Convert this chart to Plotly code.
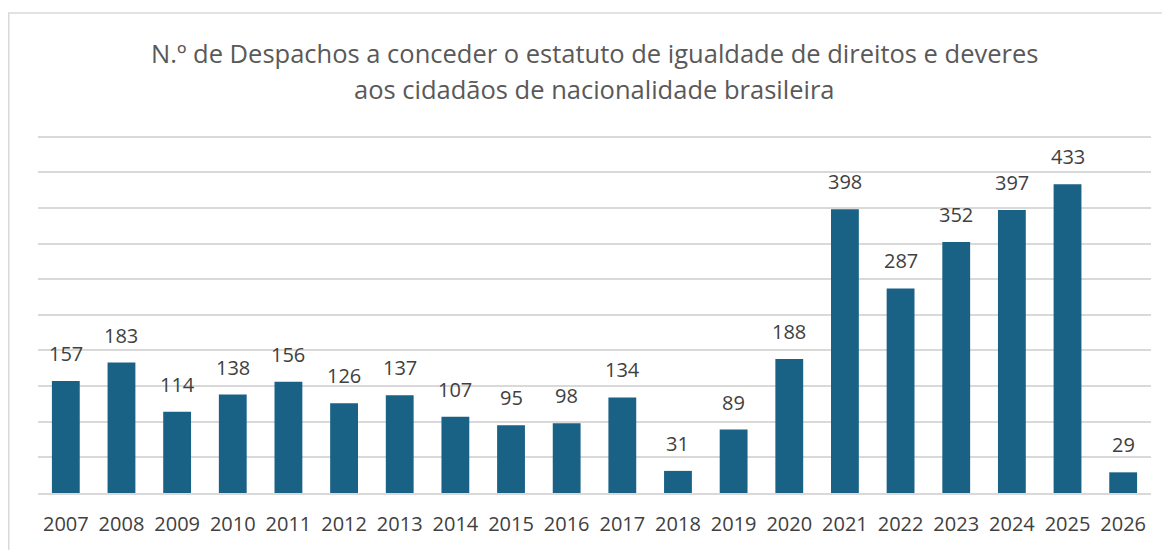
import plotly.graph_objects as go

years = ["2007", "2008", "2009", "2010", "2011", "2012", "2013", "2014", "2015", "2016",
         "2017", "2018", "2019", "2020", "2021", "2022", "2023", "2024", "2025", "2026"]
despachos = [157, 183, 114, 138, 156, 126, 137, 107, 95, 98,
             134, 31, 89, 188, 398, 287, 352, 397, 433, 29]
title_lines = ["N.º de Despachos a conceder o estatuto de igualdade de direitos e deveres",
               "aos cidadãos de nacionalidade brasileira"]

# page has an 8px body margin, so the figure is drawn 8px smaller
W, H = 1162, 542
ml, mr, mt, mb = 30, 19, 125, 57
pw, ph = W - ml - mr, H - mt - mb
font = "Open Sans"
txt_color = "#404040"

idx = list(range(len(years)))

fig = go.Figure()
fig.add_trace(go.Bar(
    x=idx, y=despachos,
    marker=dict(color="#1a6186", line=dict(width=0)),
    hovertext=years, hoverinfo="text+y",
))

for i, yv in zip(idx, despachos):
    fig.add_annotation(x=i, y=yv, text=str(yv), showarrow=False,
                       yanchor="bottom", yshift=12,
                       font=dict(family=font, size=20, color=txt_color))

# title as two centred lines
for line, ypx in zip(title_lines, [45, 81]):
    fig.add_annotation(xref="paper", yref="paper", x=0.5, xanchor="center",
                       y=(H - mb - ypx) / ph, yanchor="middle",
                       text=line, showarrow=False,
                       font=dict(family=font, size=25.5, color="#595959"))

# outer chart border (left and top visible in reference)
bx0 = (0.75 - ml) / pw
by1 = (H - mb - 5) / ph
fig.add_shape(type="rect", xref="paper", yref="paper",
              x0=bx0, x1=1.2, y0=-0.3, y1=by1,
              line=dict(color="#d9d9d9", width=1.5), fillcolor="rgba(0,0,0,0)", layer="below")

fig.update_layout(
    width=W, height=H,
    margin=dict(l=ml, r=mr, t=mt, b=mb),
    paper_bgcolor="white", plot_bgcolor="white",
    bargap=0.5,
    showlegend=False,
    font=dict(family=font, color=txt_color),
    xaxis=dict(range=[-0.5, len(years) - 0.5], tickmode="array", tickvals=idx, ticktext=years,
               showgrid=False, zeroline=False,
               showline=True, linecolor="#d9d9d9", linewidth=1.5,
               ticks="", ticklabelstandoff=12,
               tickfont=dict(family=font, size=20, color=txt_color)),
    yaxis=dict(range=[0, 505], tickmode="array", tickvals=list(range(0, 501, 50)),
               showgrid=True, gridcolor="#d9d9d9", gridwidth=1.5,
               showticklabels=False, zeroline=False, showline=False, ticks=""),
)

fig.write_html("out.html")
